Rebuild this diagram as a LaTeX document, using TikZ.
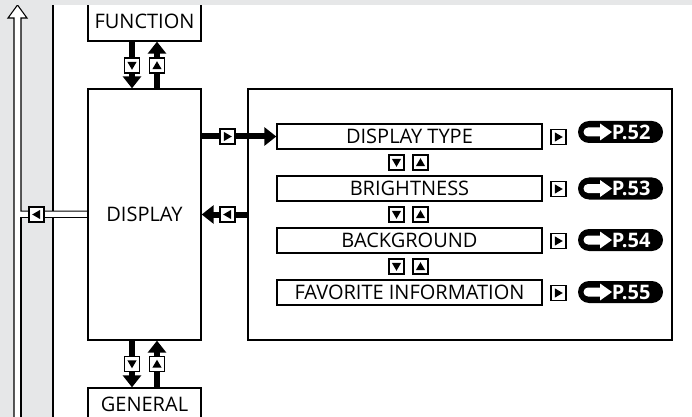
\documentclass[tikz,border=0pt]{standalone}
\usepackage{fontspec}
\setmainfont{Open Sans}
\usetikzlibrary{arrows.meta,calc}
\definecolor{bggray}{HTML}{E6E7E8}
\pgfdeclarelayer{bg}
\pgfdeclarelayer{arr}
\pgfsetlayers{bg,arr,main}
\tikzset{
  mfont/.style={font=\fontsize{15}{17}\selectfont},
  mbox/.style={draw, line width=1pt, fill=white, inner sep=0pt, mfont},
  block/.style={mbox, minimum width=84.75pt},
  item/.style={mbox, minimum width=198.75pt, minimum height=18.75pt},
  sbox/.style={draw, line width=0.8pt, fill=white, minimum width=11.25pt, minimum height=11.25pt, inner sep=0pt},
  tdown/.style={sbox, path picture={\fill[black, sharp corners] ($(path picture bounding box.center)+(-3.5pt,2.8pt)$) -- ++(7pt,0pt) -- ++(-3.5pt,-6pt) -- cycle;}},
  tup/.style={sbox, path picture={\fill[black, sharp corners] ($(path picture bounding box.center)+(-3.5pt,-2.8pt)$) -- ++(7pt,0pt) -- ++(-3.5pt,6pt) -- cycle;}},
  tright/.style={sbox, path picture={\fill[black, sharp corners] ($(path picture bounding box.center)+(-2.8pt,3.5pt)$) -- ++(0pt,-7pt) -- ++(6pt,3.5pt) -- cycle;}},
  tleft/.style={sbox, path picture={\fill[black, sharp corners] ($(path picture bounding box.center)+(2.8pt,3.5pt)$) -- ++(0pt,-7pt) -- ++(-6pt,3.5pt) -- cycle;}},
  pill/.style={fill=black, rounded corners=8.25pt, minimum width=63.75pt, minimum height=16.5pt, inner sep=0pt, text=white,
    font=\fontsize{15}{16}\selectfont\bfseries,
    path picture={\fill[white, sharp corners] ($(path picture bounding box.west)+(10,-4.5)$) -- ++(12,0) -- ++(0,-4) -- ++(12,8.5) -- ++(-12,8.5) -- ++(0,-4) -- ++(-12,0) arc[start angle=90, end angle=270, radius=4.5] -- cycle;}},
  fat/.style={line width=4.5pt, -{Triangle[width=13.5pt,length=9pt]}},
  hollow/.style={line width=0.8pt, line join=miter}
}
\begin{document}
\begin{tikzpicture}[x=0.75pt, y=-0.75pt]
\useasboundingbox (0,0) rectangle (692,417);
\clip (0,0) rectangle (692,417);
% background
\begin{pgfonlayer}{bg}
  \fill[bggray] (0,0) rectangle (692,417);
  \fill[white] (53,5) rectangle (692,417);
  \draw[line width=0.8pt] (53,5) -- (53,417);
  \node[draw, line width=1pt, fill=white, minimum width=318pt, minimum height=188.25pt, inner sep=0pt] (panel) at (460,214.5) {};
\end{pgfonlayer}

% main blocks
\node[block, minimum height=30pt] (func) at (144.5,21) {FUNCTION};
\node[block, minimum height=188.25pt] (disp) at (144.5,214.5) {DISPLAY};
\node[block, minimum height=24pt] (gen) at (144.5,404) {GENERAL};

% menu items
\node[item] (dt) at (409.5,136.5) {DISPLAY TYPE};
\node[item] (br) at (409.5,188.5) {BRIGHTNESS};
\node[item] (bk) at (409.5,240.5) {BACKGROUND};
\node[item] (fav) at (409.5,292.5) {FAVORITE INFORMATION};

% up/down symbols between items
\node[tdown] (d12) at (396.5,162.5) {};
\node[tup]   (u12) at (420.5,162.5) {};
\node[tdown] (d23) at (396.5,214.5) {};
\node[tup]   (u23) at (420.5,214.5) {};
\node[tdown] (d34) at (396.5,266.5) {};
\node[tup]   (u34) at (420.5,266.5) {};

% right symbols and page references
\node[tright] (r1) at (558.5,137) {};
\node[tright] (r2) at (558.5,189) {};
\node[tright] (r3) at (558.5,241) {};
\node[tright] (r4) at (558.5,293) {};
\node[pill] (p52) at (620.5,132) {\hspace*{16pt}P.52};
\node[pill] (p53) at (620.5,188.5) {\hspace*{16pt}P.53};
\node[pill] (p54) at (620.5,240) {\hspace*{16pt}P.54};
\node[pill] (p55) at (620.5,292) {\hspace*{16pt}P.55};

% symbols on the connectors
\node[tdown] (sd1) at (132,65.5) {};
\node[tup]   (su1) at (157,65.5) {};
\node[tdown] (sd2) at (132,364) {};
\node[tup]   (su2) at (157,364) {};
\node[tright] (sr) at (227.5,136.5) {};
\node[tleft]  (sl) at (227.5,214.5) {};
\node[tleft]  (sb) at (36.5,214.5) {};

\coordinate (topend) at (17.5,5);
\coordinate (bj1) at ($(disp.west)+(0,-3.3)$);
\coordinate (bj2) at ($(disp.west)+(0,3.3)$);

\begin{pgfonlayer}{arr}
  \draw[fat] (func.south -| sd1) -- (disp.north -| sd1);
  \draw[fat] (disp.north -| su1) -- (func.south -| su1);
  \draw[fat] (disp.south -| sd2) -- (gen.north -| sd2);
  \draw[fat] (gen.north -| su2) -- (disp.south -| su2);
  \draw[fat] (disp.east |- dt) -- (dt.west);
  \draw[fat] (panel.west) -- (disp.east);
  % hollow return arrow
  \fill[white] (14,417) -- (14,18) -- (8,18) -- (topend) -- (27,18) -- (21,18) -- (21,211.2) -- (bj1) -- (bj2) -- (21,217.8) -- (21,417) -- cycle;
  \draw[hollow] (14,417) -- (14,18) -- (8,18) -- (topend) -- (27,18) -- (21,18) -- (21,211.2) -- (bj1);
  \draw[hollow] (bj2) -- (21,217.8) -- (21,417);
\end{pgfonlayer}

% top gray strip covering FUNCTION top
\fill[bggray] (0,0) rectangle (692,5);
\end{tikzpicture}
\end{document}
